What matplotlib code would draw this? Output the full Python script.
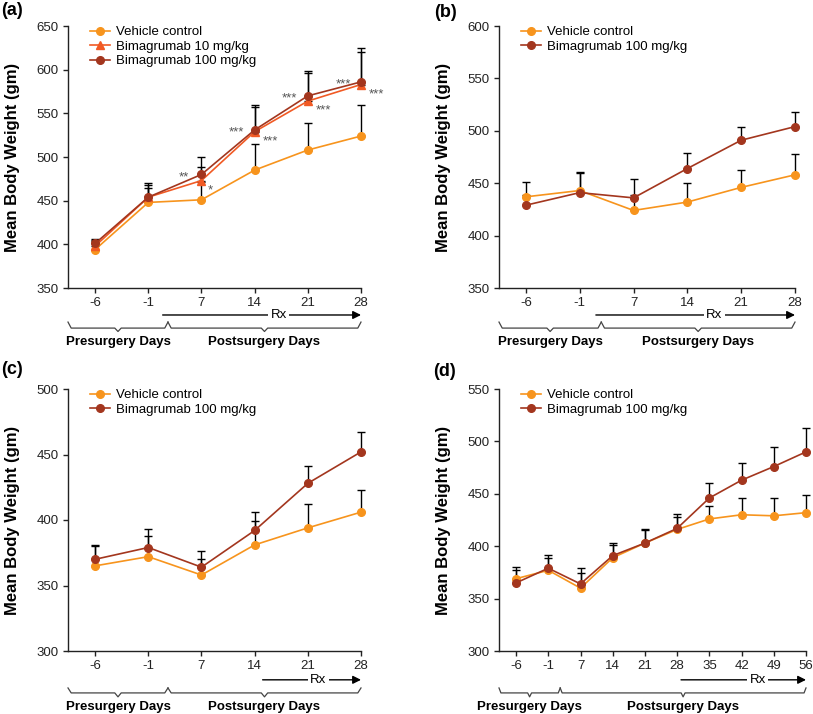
import numpy as np
import matplotlib
matplotlib.use("Agg")
import matplotlib.pyplot as plt
import matplotlib.transforms as mtransforms

plt.rcParams['font.family'] = ['Liberation Sans', 'DejaVu Sans']

# colours
c_veh = '#F7941D'
c_10 = '#F15A24'
c_100 = '#A3361E'

# ---- data ----
days_a = ['-6', '-1', '7', '14', '21', '28']
veh_a = [394, 448, 451, 485, 508, 524]
veh_a_err = [10, 16, 20, 30, 31, 36]
b10_a = [398, 454, 473, 529, 564, 583]
b10_a_err = [7, 14, 16, 28, 32, 37]
b100_a = [401, 454, 480, 531, 570, 586]
b100_a_err = [5, 16, 20, 29, 29, 39]

days_b = ['-6', '-1', '7', '14', '21', '28']
veh_b = [437, 443, 424, 432, 446, 458]
veh_b_err = [14, 17, 15, 18, 17, 20]
b100_b = [429, 441, 436, 464, 491, 504]
b100_b_err = [10, 20, 18, 15, 13, 14]

days_c = ['-6', '-1', '7', '14', '21', '28']
veh_c = [365, 372, 358, 381, 394, 406]
veh_c_err = [15, 16, 12, 18, 18, 17]
b100_c = [370, 379, 364, 392, 428, 452]
b100_c_err = [11, 14, 12, 14, 13, 15]

days_d = ['-6', '-1', '7', '14', '21', '28', '35', '42', '49', '56']
veh_d = [369, 377, 360, 389, 403, 416, 426, 430, 429, 432]
veh_d_err = [8, 12, 14, 12, 12, 12, 12, 16, 17, 17]
b100_d = [365, 379, 364, 391, 403, 417, 446, 463, 476, 490]
b100_d_err = [15, 13, 15, 12, 13, 14, 14, 16, 19, 23]

# significance stars for panel (a)
stars_100_a = ['', '', '**', '***', '***', '***']
stars_10_a = ['', '', '*', '***', '***', '***']

W, H = 813, 714
fig = plt.figure(figsize=(W / 100, H / 100), dpi=100)


def px_axes(x0, x1, ytop, ybot):
    return fig.add_axes([x0 / W, 1 - ybot / H, (x1 - x0) / W, (ybot - ytop) / H])


def series(ax, x, y, err, color, marker, label, z):
    eb = ax.errorbar(x, y, yerr=[np.zeros(len(err)), err], fmt='none', ecolor='black',
                     elinewidth=1.0, capsize=3, capthick=1.0, zorder=z)
    for art in eb.get_children():
        art.set_clip_on(False)
    ax.plot(x, y, color=color, marker=marker, ms=5.5, lw=1.2, label=label,
            zorder=z + 5, clip_on=False)


def style(ax, days, ylim, yticks, xleft, width_px, height_px):
    ax.set_xlim(xleft, len(days) - 1)
    ax.set_ylim(*ylim)
    ax.set_yticks(yticks)
    ax.set_xticks(np.arange(len(days)))
    ax.set_xticklabels(days)
    for s in ['top', 'right']:
        ax.spines[s].set_visible(False)
    for s in ['left', 'bottom']:
        ax.spines[s].set_linewidth(1.0)
        ax.spines[s].set_color('#222222')
    ax.tick_params(labelsize=9.5, length=3.5, width=1.0, pad=3, colors='#222222')
    ax.set_ylabel('Mean Body Weight (gm)', fontsize=12, fontweight='bold')
    ax.yaxis.set_label_coords(-48 / width_px, 0.5)
    ax.legend(loc='upper left', bbox_to_anchor=(22 / width_px, 1.0),
              frameon=False, fontsize=9.5, handlelength=1.5, handletextpad=0.5,
              labelspacing=0.18, borderaxespad=0, borderpad=0)


def brace(ax, xa, xb, ytop, ymid, ybot):
    tr = mtransforms.blended_transform_factory(ax.transData, ax.transAxes)
    xm = (xa + xb) / 2
    d = 0.06
    xs = [xa, xa + d, xm - d, xm, xm + d, xb - d, xb]
    ys = [ytop, ymid, ymid, ybot, ymid, ymid, ytop]
    ax.plot(xs, ys, transform=tr, color='#444444', lw=0.9, clip_on=False)


def bottom_notes(ax, days, xleft, split, rx_start, rx_text, y_rx, y_btop, y_bmid, y_bbot, y_lab):
    tr = mtransforms.blended_transform_factory(ax.transData, ax.transAxes)
    xend = len(days) - 1
    ax.annotate('', xy=(xend, y_rx), xytext=(rx_start, y_rx), xycoords=tr, textcoords=tr,
                arrowprops=dict(arrowstyle='-|>', color='black', lw=1.0,
                                mutation_scale=12, shrinkA=0, shrinkB=0))
    ax.text(rx_text, y_rx, 'Rx', transform=tr, ha='center', va='center', fontsize=9.5,
            bbox=dict(facecolor='white', edgecolor='none', pad=1.5))
    brace(ax, xleft, split, y_btop, y_bmid, y_bbot)
    brace(ax, split, xend, y_btop, y_bmid, y_bbot)
    ax.text((xleft + split) / 2, y_lab, 'Presurgery Days', transform=tr, ha='center',
            va='center', fontsize=9.5, fontweight='bold')
    ax.text((split + xend) / 2, y_lab, 'Postsurgery Days', transform=tr, ha='center',
            va='center', fontsize=9.5, fontweight='bold')


# ---------- panel (a) ----------
ax = px_axes(68, 361, 26, 288)
x = np.arange(len(days_a))
series(ax, x, veh_a, veh_a_err, c_veh, 'o', 'Vehicle control', 2)
series(ax, x, b10_a, b10_a_err, c_10, '^', 'Bimagrumab 10 mg/kg', 3)
series(ax, x, b100_a, b100_a_err, c_100, 'o', 'Bimagrumab 100 mg/kg', 4)
style(ax, days_a, (350, 650), np.arange(350, 651, 50), -0.51, 293, 262)
for i in range(len(days_a)):
    if stars_100_a[i]:
        ax.annotate(stars_100_a[i], (x[i], b100_a[i]), xytext=(-13, -2), textcoords='offset points',
                    ha='center', va='center', fontsize=9.5, color='#555555')
    if stars_10_a[i]:
        ax.annotate(stars_10_a[i], (x[i], b10_a[i]), xytext=(11 if len(stars_10_a[i]) > 1 else 6, -7),
                    textcoords='offset points', ha='center', va='center', fontsize=9.5, color='#555555')
bottom_notes(ax, days_a, -0.51, 1.37, 1.27, 3.45, -0.103, -0.13, -0.153, -0.166, -0.208)

# ---------- panel (b) ----------
ax = px_axes(499, 795, 26, 288)
x = np.arange(len(days_b))
series(ax, x, veh_b, veh_b_err, c_veh, 'o', 'Vehicle control', 2)
series(ax, x, b100_b, b100_b_err, c_100, 'o', 'Bimagrumab 100 mg/kg', 4)
style(ax, days_b, (350, 600), np.arange(350, 601, 50), -0.5, 296, 262)
bottom_notes(ax, days_b, -0.5, 1.4, 1.3, 3.5, -0.103, -0.13, -0.153, -0.166, -0.208)

# ---------- panel (c) ----------
ax = px_axes(68, 361, 389, 651)
x = np.arange(len(days_c))
series(ax, x, veh_c, veh_c_err, c_veh, 'o', 'Vehicle control', 2)
series(ax, x, b100_c, b100_c_err, c_100, 'o', 'Bimagrumab 100 mg/kg', 4)
style(ax, days_c, (300, 500), np.arange(300, 501, 50), -0.51, 293, 262)
bottom_notes(ax, days_c, -0.51, 1.37, 3.15, 4.2, -0.11, -0.141, -0.16, -0.175, -0.213)

# ---------- panel (d) ----------
ax = px_axes(499, 806, 389, 651)
x = np.arange(len(days_d))
series(ax, x, veh_d, veh_d_err, c_veh, 'o', 'Vehicle control', 2)
series(ax, x, b100_d, b100_d_err, c_100, 'o', 'Bimagrumab 100 mg/kg', 4)
style(ax, days_d, (300, 550), np.arange(300, 551, 50), -0.53, 307, 262)
bottom_notes(ax, days_d, -0.53, 1.37, 5.12, 7.5, -0.11, -0.141, -0.16, -0.175, -0.213)

# panel letters
for lab, xp, yp in [('(a)', 1, 2), ('(b)', 434, 4), ('(c)', 1, 361), ('(d)', 433, 363)]:
    fig.text(xp / W, 1 - yp / H, lab, fontsize=13, fontweight='bold', ha='left', va='top')

fig.savefig('out.png', dpi=100)
